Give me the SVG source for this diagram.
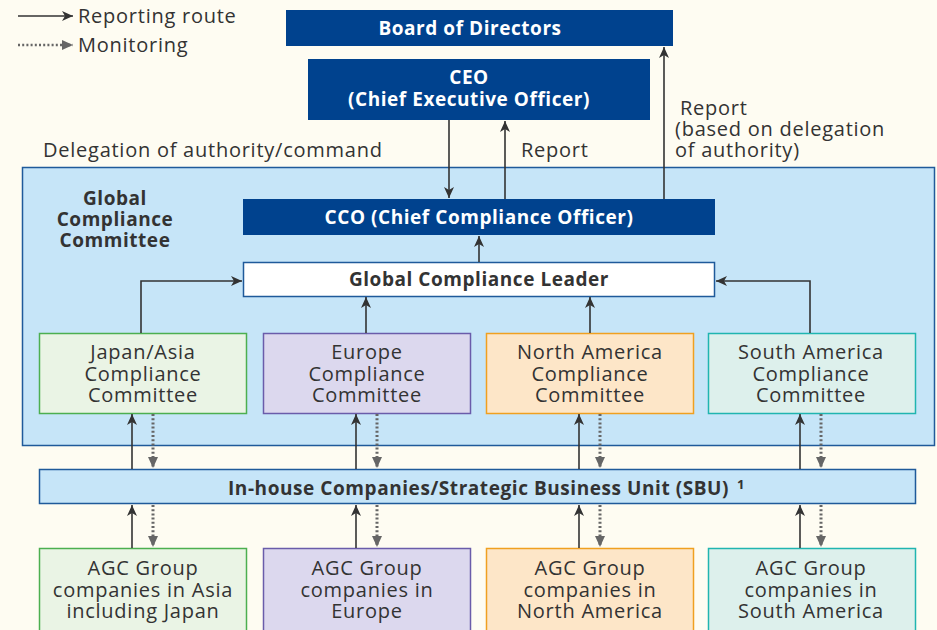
<svg xmlns="http://www.w3.org/2000/svg" width="937" height="630" viewBox="0 0 937 630">
<defs>
<marker id="ah" markerUnits="userSpaceOnUse" markerWidth="12" markerHeight="14" refX="11" refY="5" orient="auto">
<path d="M0,0 L11,5 L0,10 L3,5 Z" fill="#333"/>
</marker>
<marker id="ahd" markerUnits="userSpaceOnUse" markerWidth="12" markerHeight="14" refX="11" refY="5" orient="auto">
<path d="M0,0 L11,5 L0,10 Z" fill="#666"/>
</marker>
</defs>
<style>
text{font-family:"Open Sans","Noto Sans","DejaVu Sans",sans-serif;fill:#333;}
.w{fill:#fff;font-weight:bold;font-size:19px;letter-spacing:0.55px;}
.b{font-weight:bold;font-size:19px;letter-spacing:0.55px;}
.n{font-size:20px;letter-spacing:0.75px;}
.c{text-anchor:middle;}
.dark{fill:#00428E;}
.sol{stroke:#333;stroke-width:1.6;fill:none;marker-end:url(#ah);}
.dot{stroke:#666;stroke-width:3;stroke-dasharray:2 2.2;fill:none;marker-end:url(#ahd);}
.lbl{font-size:20px;letter-spacing:0.75px;}
</style>
<rect width="937" height="630" fill="#FEFCF2"/>

<g id="legend">
<line x1="18" y1="16" x2="73" y2="16" class="sol"/>
<text x="78" y="23" class="lbl">Reporting route</text>
<line x1="18" y1="45" x2="73" y2="45" class="dot" style="stroke-width:2.4"/>
<text x="78" y="52" class="lbl">Monitoring</text>
</g>

<g id="gcc">
<rect x="22.5" y="167.5" width="912" height="278" fill="#C6E5F8" stroke="#1F5A9A" stroke-width="1.5"/>
<text x="115" y="205" class="b c">Global</text>
<text x="115" y="226" class="b c">Compliance</text>
<text x="115" y="247" class="b c">Committee</text>
</g>

<g id="board">
<rect x="286" y="10" width="387" height="36" class="dark"/>
<text x="470" y="35" class="w c">Board of Directors</text>
</g>

<g id="ceo">
<rect x="308" y="59" width="342" height="61" class="dark"/>
<text x="469" y="84" class="w c">CEO</text>
<text x="469" y="106" class="w c">(Chief Executive Officer)</text>
</g>

<g id="cco">
<rect x="243" y="199" width="472" height="36" class="dark"/>
<text x="479" y="224" class="w c">CCO (Chief Compliance Officer)</text>
</g>

<g id="gcl">
<rect x="243.5" y="262.5" width="471" height="34" fill="#fff" stroke="#1F5A9A" stroke-width="1.5"/>
<text x="479" y="286" class="b c">Global Compliance Leader</text>
</g>

<g id="jp-cc">
<rect x="39.5" y="333.5" width="207" height="80" fill="#EAF4E5" stroke="#4CAF50" stroke-width="1.5"/>
<text x="143" y="359" class="n c">Japan/Asia</text>
<text x="143" y="381" class="n c">Compliance</text>
<text x="143" y="402" class="n c">Committee</text>
</g>
<g id="eu-cc">
<rect x="263.5" y="333.5" width="207" height="80" fill="#DCD8EE" stroke="#6A5CAA" stroke-width="1.5"/>
<text x="367" y="359" class="n c">Europe</text>
<text x="367" y="381" class="n c">Compliance</text>
<text x="367" y="402" class="n c">Committee</text>
</g>
<g id="na-cc">
<rect x="486.5" y="333.5" width="207" height="80" fill="#FDE6C8" stroke="#F0A020" stroke-width="1.5"/>
<text x="590" y="359" class="n c">North America</text>
<text x="590" y="381" class="n c">Compliance</text>
<text x="590" y="402" class="n c">Committee</text>
</g>
<g id="sa-cc">
<rect x="708.5" y="333.5" width="207" height="80" fill="#DDF0EC" stroke="#20B5B0" stroke-width="1.5"/>
<text x="811" y="359" class="n c">South America</text>
<text x="811" y="381" class="n c">Compliance</text>
<text x="811" y="402" class="n c">Committee</text>
</g>

<g id="sbu">
<rect x="39.5" y="469.5" width="876" height="34" fill="#C6E5F8" stroke="#1F5A9A" stroke-width="1.5"/>
<text x="228" y="495" class="b" textLength="501" lengthAdjust="spacingAndGlyphs">In-house Companies/Strategic Business Unit (SBU)</text>
<text x="737" y="489" style="font-weight:bold;font-size:13px">1</text>
</g>

<g id="jp-co">
<rect x="39.5" y="548.5" width="207" height="90" fill="#EAF4E5" stroke="#4CAF50" stroke-width="1.5"/>
<text x="143" y="575" class="n c">AGC Group</text>
<text x="143" y="597" class="n c">companies in Asia</text>
<text x="143" y="618" class="n c">including Japan</text>
</g>
<g id="eu-co">
<rect x="263.5" y="548.5" width="207" height="90" fill="#DCD8EE" stroke="#6A5CAA" stroke-width="1.5"/>
<text x="367" y="575" class="n c">AGC Group</text>
<text x="367" y="597" class="n c">companies in</text>
<text x="367" y="618" class="n c">Europe</text>
</g>
<g id="na-co">
<rect x="486.5" y="548.5" width="207" height="90" fill="#FDE6C8" stroke="#F0A020" stroke-width="1.5"/>
<text x="590" y="575" class="n c">AGC Group</text>
<text x="590" y="597" class="n c">companies in</text>
<text x="590" y="618" class="n c">North America</text>
</g>
<g id="sa-co">
<rect x="708.5" y="548.5" width="207" height="90" fill="#DDF0EC" stroke="#20B5B0" stroke-width="1.5"/>
<text x="811" y="575" class="n c">AGC Group</text>
<text x="811" y="597" class="n c">companies in</text>
<text x="811" y="618" class="n c">South America</text>
</g>

<g id="labels">
<text x="43" y="157" class="lbl">Delegation of authority/command</text>
<text x="521" y="157" class="lbl">Report</text>
<text x="680" y="115" class="lbl">Report</text>
<text x="675" y="136" class="lbl">(based on delegation</text>
<text x="675" y="157" class="lbl">of authority)</text>
</g>

<g id="connectors">
<line x1="449" y1="120" x2="449" y2="198" class="sol"/>
<line x1="505" y1="199" x2="505" y2="121" class="sol"/>
<line x1="664" y1="199" x2="664" y2="47" class="sol"/>
<line x1="479" y1="262" x2="479" y2="236" class="sol"/>
<polyline points="141,333 141,281 242,281" class="sol"/>
<polyline points="810,333 810,281 716,281" class="sol"/>
<line x1="366" y1="333" x2="366" y2="297" class="sol"/>
<line x1="590" y1="333" x2="590" y2="297" class="sol"/>

<line x1="132" y1="469" x2="132" y2="414" class="sol"/>
<line x1="153" y1="414" x2="153" y2="468" class="dot"/>
<line x1="356" y1="469" x2="356" y2="414" class="sol"/>
<line x1="377" y1="414" x2="377" y2="468" class="dot"/>
<line x1="579" y1="469" x2="579" y2="414" class="sol"/>
<line x1="600" y1="414" x2="600" y2="468" class="dot"/>
<line x1="800" y1="469" x2="800" y2="414" class="sol"/>
<line x1="821" y1="414" x2="821" y2="468" class="dot"/>

<line x1="132" y1="548" x2="132" y2="505" class="sol"/>
<line x1="153" y1="505" x2="153" y2="547" class="dot"/>
<line x1="356" y1="548" x2="356" y2="505" class="sol"/>
<line x1="377" y1="505" x2="377" y2="547" class="dot"/>
<line x1="579" y1="548" x2="579" y2="505" class="sol"/>
<line x1="600" y1="505" x2="600" y2="547" class="dot"/>
<line x1="800" y1="548" x2="800" y2="505" class="sol"/>
<line x1="821" y1="505" x2="821" y2="547" class="dot"/>
</g>
</svg>
